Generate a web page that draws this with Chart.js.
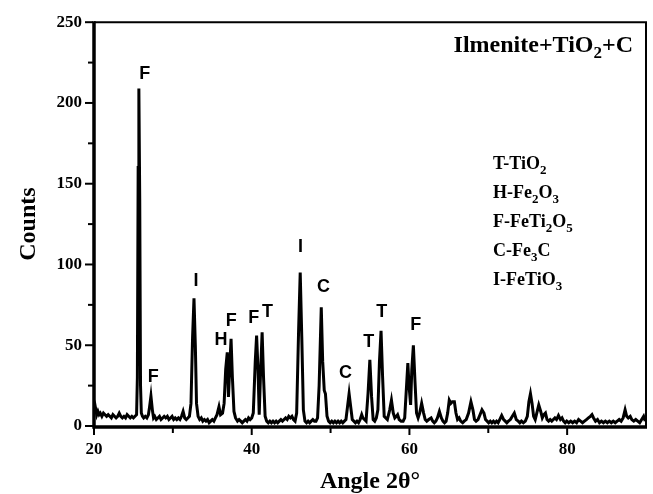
<!DOCTYPE html>
<html>
<head>
<meta charset="utf-8">
<script src="https://cdn.jsdelivr.net/npm/chart.js@4.4.0/dist/chart.umd.min.js"></script>
<style>
  html, body { margin: 0; padding: 0; background: #fff; }
</style>
</head>
<body>
<canvas id="xrd" width="653" height="494"></canvas>
<script>
// XRD scan (2theta in degrees, counts)
const angles = [
  20.0, 20.1, 20.2, 20.35, 20.5, 20.65, 20.8, 21.0, 21.2, 21.4,
  21.6, 21.8, 22.0, 22.2, 22.4, 22.6, 22.8, 23.0, 23.2, 23.4,
  23.6, 23.8, 24.0, 24.2, 24.4, 24.6, 24.8, 25.0, 25.2, 25.4,
  25.5, 25.6, 25.69, 25.8, 25.9, 26.0, 26.15, 26.3, 26.5, 26.7,
  26.9, 27.05, 27.22, 27.4, 27.55, 27.7, 27.9, 28.1, 28.3, 28.5,
  28.7, 28.9, 29.1, 29.3, 29.5, 29.7, 29.9, 30.1, 30.3, 30.5,
  30.7, 30.9, 31.1, 31.3, 31.5, 31.7, 31.9, 32.1, 32.3, 32.5,
  32.68, 32.85, 33.0, 33.2, 33.4, 33.6, 33.8, 34.0, 34.2, 34.4,
  34.6, 34.8, 35.0, 35.2, 35.4, 35.6, 35.85, 36.05, 36.3, 36.5,
  36.7, 36.9, 37.05, 37.2, 37.38, 37.55, 37.75, 37.95, 38.2, 38.4,
  38.6, 38.8, 39.0, 39.2, 39.4, 39.6, 39.8, 40.0, 40.2, 40.45,
  40.62, 40.8, 40.95, 41.1, 41.32, 41.5, 41.7, 41.9, 42.1, 42.3,
  42.5, 42.7, 42.9, 43.1, 43.3, 43.5, 43.7, 43.9, 44.1, 44.3,
  44.5, 44.7, 44.9, 45.1, 45.3, 45.5, 45.7, 45.95, 46.15, 46.35,
  46.55, 46.75, 46.95, 47.15, 47.35, 47.55, 47.75, 47.95, 48.15, 48.35,
  48.55, 48.82, 49.0, 49.2, 49.35, 49.55, 49.75, 49.95, 50.15, 50.35,
  50.55, 50.75, 50.95, 51.15, 51.35, 51.55, 51.75, 51.95, 52.15, 52.35,
  52.55, 52.75, 52.95, 53.15, 53.35, 53.55, 53.75, 53.95, 54.1, 54.3,
  54.5, 54.75, 54.98, 55.2, 55.4, 55.6, 55.8, 56.0, 56.2, 56.4,
  56.6, 56.8, 57.0, 57.2, 57.5, 57.72, 57.95, 58.15, 58.35, 58.5,
  58.7, 58.95, 59.2, 59.4, 59.6, 59.8, 59.95, 60.15, 60.3, 60.5,
  60.7, 60.9, 61.1, 61.3, 61.55, 61.8, 62.0, 62.2, 62.45, 62.75,
  62.95, 63.15, 63.35, 63.55, 63.8, 64.05, 64.25, 64.45, 64.65, 64.85,
  65.05, 65.25, 65.45, 65.7, 65.9, 66.1, 66.3, 66.5, 66.75, 66.95,
  67.2, 67.5, 67.8, 68.05, 68.25, 68.45, 68.7, 68.95, 69.2, 69.45,
  69.65, 69.85, 70.05, 70.25, 70.45, 70.65, 70.85, 71.05, 71.25, 71.45,
  71.7, 71.95, 72.15, 72.35, 72.55, 72.8, 73.05, 73.3, 73.55, 73.8,
  74.0, 74.2, 74.45, 74.7, 74.95, 75.15, 75.35, 75.55, 75.75, 75.95,
  76.15, 76.4, 76.65, 76.85, 77.05, 77.25, 77.45, 77.65, 77.85, 78.05,
  78.25, 78.45, 78.65, 78.9, 79.15, 79.35, 79.55, 79.75, 79.95, 80.2,
  80.45, 80.7, 80.95, 81.2, 81.45, 81.7, 81.95, 82.2, 82.45, 82.7,
  82.95, 83.15, 83.35, 83.6, 83.85, 84.1, 84.35, 84.6, 84.85, 85.1,
  85.35, 85.6, 85.85, 86.1, 86.35, 86.6, 86.85, 87.1, 87.35, 87.55,
  87.75, 88.0, 88.2, 88.45, 88.7, 88.95, 89.2, 89.45, 89.7, 89.9
];
const counts = [
  12, 8, 11, 7, 9, 7, 8, 6, 8, 7,
  6, 7, 6, 5, 7, 6, 5, 6, 8, 6,
  5, 6, 5, 7, 6, 5, 6, 5, 6, 7,
  30, 160, 209, 140, 25, 8, 6, 5, 6, 5,
  7, 12, 18.5, 10, 5, 6, 4, 5, 6, 4,
  5, 6, 5, 6, 4, 5, 6, 4, 5, 4,
  5, 4, 6, 9, 5, 4, 5, 6, 14, 55,
  79, 50, 14, 6, 4, 5, 3, 4, 3, 4,
  2, 3, 4, 3, 5, 7, 12, 7, 8, 14,
  35, 45.6, 18, 35, 54, 30, 9, 5, 3, 4,
  3, 2, 3, 4, 3, 5, 4, 5, 8, 40,
  56, 35, 7, 30, 58, 30, 6, 3, 2, 3,
  2, 3, 2, 3, 2, 3, 4, 3, 4, 5,
  4, 6, 5, 6, 4, 3, 8, 60, 95, 55,
  10, 3, 2, 3, 2, 3, 4, 3, 3, 5,
  25, 73.5, 40, 22, 20, 6, 3, 2, 3, 2,
  3, 2, 3, 2, 3, 2, 3, 4, 12, 20,
  12, 4, 3, 2, 3, 2, 4, 7, 5, 4,
  3, 20, 41, 18, 4, 3, 5, 10, 40, 59,
  30, 6, 5, 4, 10, 16, 8, 5, 6, 7,
  4, 3, 3, 5, 22, 39, 25, 13, 35, 50,
  28, 8, 5, 8, 14, 8, 4, 3, 4, 5,
  3, 2, 3, 5, 9, 5, 3, 2, 3, 8,
  16, 14, 15, 15, 8, 4, 5, 3, 2, 3,
  4, 8, 15, 10, 4, 3, 4, 7, 10, 8,
  4, 3, 2, 3, 2, 3, 2, 3, 2, 4,
  6.5, 4, 3, 2, 3, 4, 6, 8, 4, 3,
  2, 3, 2, 3, 6, 15, 20, 14, 6, 4,
  8, 13, 9, 5, 7, 8, 4, 3, 4, 3,
  4, 5, 4, 6.5, 4, 5, 3, 2, 3, 2,
  3, 2, 3, 2, 4, 3, 2, 3, 4, 5,
  6, 7, 5, 3, 4, 2, 3, 2, 3, 2,
  3, 2, 3, 2, 3, 4, 3, 5, 10, 6,
  5, 6, 4, 3, 4, 3, 2, 4, 6, 3
];

const xTicks = [20, 40, 60, 80];
const yTicks = [0, 50, 100, 150, 200, 250];

// phase letters over the peaks, placed at (angle, counts)
const peakLetters = ['F', 'F', 'I', 'H', 'F', 'F', 'T', 'I', 'C', 'C', 'T', 'T', 'F'];
const letterAngles = [26.45, 27.5, 32.95, 36.12, 37.4, 40.27, 42.0, 46.2, 49.1, 51.9, 54.83, 56.5, 60.8];
const letterCounts = [218, 30.4, 90, 53, 65, 66.7, 70.4, 110.5, 85.8, 32.7, 51.9, 70.4, 62.3];

const phaseCodes = ['T', 'H', 'F', 'C', 'I'];
const phaseFormulas = ['TiO2', 'Fe2O3', 'FeTi2O5', 'Fe3C', 'FeTiO3'];
const sampleName = 'Ilmenite+TiO2+C';

const serif = 'Liberation Serif, Times New Roman, serif';
const sans = 'Liberation Sans, Arial, sans-serif';

// draws text where every digit is a subscript
function drawChem(ctx, text, x, y, size, align) {
    const subSize = Math.round(size * 0.72);
    const parts = text.split(/(\d)/).filter(p => p !== '');
    let width = 0;
    parts.forEach(p => {
        ctx.font = 'bold ' + (/\d/.test(p) ? subSize : size) + 'px ' + serif;
        width += ctx.measureText(p).width;
    });
    let cx = align === 'right' ? x - width : x;
    ctx.textAlign = 'left';
    ctx.textBaseline = 'alphabetic';
    parts.forEach(p => {
        const sub = /\d/.test(p);
        ctx.font = 'bold ' + (sub ? subSize : size) + 'px ' + serif;
        ctx.fillText(p, cx, sub ? y + size * 0.25 : y);
        cx += ctx.measureText(p).width;
    });
}

const decorPlugin = {
    id: 'decor',
    afterDatasetsDraw(chart) {
        const ctx = chart.ctx;
        const xs = chart.scales.x, ys = chart.scales.y;
        const a = chart.chartArea;
        ctx.save();
        ctx.strokeStyle = '#000';
        ctx.fillStyle = '#000';

        // frame: heavy left and bottom, lighter top and right
        ctx.lineWidth = 2;
        ctx.beginPath();
        ctx.moveTo(a.left, a.top); ctx.lineTo(a.right, a.top); ctx.lineTo(a.right, a.bottom);
        ctx.stroke();
        ctx.lineWidth = 3.5;
        ctx.beginPath();
        ctx.moveTo(a.left, a.top - 1); ctx.lineTo(a.left, a.bottom + 1); ctx.lineTo(a.right + 1, a.bottom + 1);
        ctx.stroke();

        // tick marks, with minor ticks halfway
        ctx.lineWidth = 2;
        for (let v = 0; v <= 250; v += 25) {
            const py = ys.getPixelForValue(v);
            const len = v % 50 === 0 ? 8 : 5;
            ctx.beginPath(); ctx.moveTo(a.left - 1, py); ctx.lineTo(a.left - 1 - len, py); ctx.stroke();
        }
        for (let v = 20; v < 90; v += 10) {
            const px = xs.getPixelForValue(v);
            const len = v % 20 === 0 ? 7 : 5;
            ctx.beginPath(); ctx.moveTo(px, a.bottom + 2); ctx.lineTo(px, a.bottom + 2 + len); ctx.stroke();
        }

        // peak letters
        ctx.font = 'bold 18px ' + sans;
        ctx.textAlign = 'center';
        ctx.textBaseline = 'middle';
        peakLetters.forEach((t, i) => {
            ctx.fillText(t, xs.getPixelForValue(letterAngles[i]), ys.getPixelForValue(letterCounts[i]));
        });

        // sample name and phase key
        drawChem(ctx, sampleName, 633, 52, 24, 'right');
        phaseCodes.forEach((c, i) => {
            drawChem(ctx, c + '-' + phaseFormulas[i], 493, 169 + i * 29, 18, 'left');
        });

        // axis titles
        ctx.font = 'bold 24px ' + serif;
        ctx.textAlign = 'center';
        ctx.textBaseline = 'alphabetic';
        ctx.fillText('Angle 2θ°', (a.left + a.right) / 2, 488);
        ctx.save();
        ctx.translate(35, (a.top + a.bottom) / 2);
        ctx.rotate(-Math.PI / 2);
        ctx.fillText('Counts', 0, 0);
        ctx.restore();
        ctx.restore();
    }
};

const tickFont = { family: serif, size: 17, weight: 'bold' };

new Chart(document.getElementById('xrd').getContext('2d'), {
    type: 'line',
    data: {
        datasets: [{
            data: angles.map((x, i) => ({ x, y: counts[i] })),
            borderColor: '#000',
            borderWidth: 3,
            pointRadius: 0,
            tension: 0,
            fill: false
        }]
    },
    options: {
        responsive: false,
        animation: false,
        layout: { padding: { top: 21, right: 7, left: 0, bottom: 0 } },
        plugins: { legend: { display: false }, tooltip: { enabled: false } },
        scales: {
            x: {
                type: 'linear',
                min: 20,
                max: 90,
                grid: { display: false, drawTicks: false },
                border: { display: false },
                ticks: { font: tickFont, color: '#000', padding: 13, maxRotation: 0 },
                afterBuildTicks: s => { s.ticks = xTicks.map(v => ({ value: v })); },
                afterFit: s => { s.height = 68; }
            },
            y: {
                min: 0,
                max: 250,
                grid: { display: false, drawTicks: false },
                border: { display: false },
                ticks: { font: tickFont, color: '#000', padding: 12 },
                afterBuildTicks: s => { s.ticks = yTicks.map(v => ({ value: v })); },
                afterFit: s => { s.width = 94; }
            }
        }
    },
    plugins: [decorPlugin]
});
</script>
</body>
</html>
